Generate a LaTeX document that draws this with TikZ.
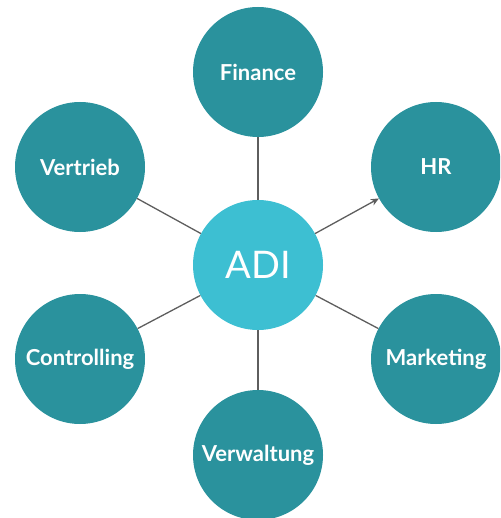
\documentclass[tikz,border=0pt]{standalone}
\usepackage{fontspec}
\setmainfont{Lato}
\usetikzlibrary{arrows.meta}
\definecolor{tealdark}{HTML}{2A929D}
\definecolor{teallight}{HTML}{3DBFD2}
\definecolor{linkgray}{HTML}{5E5E5E}
\tikzset{
  dept/.style={circle, fill=tealdark, text=white, minimum size=130pt, inner sep=0pt, font=\bfseries\fontsize{22}{26}\selectfont},
  hub/.style={circle, fill=teallight, text=white, minimum size=130pt, inner sep=0pt, font=\fontsize{38}{44}\selectfont},
  link/.style={linkgray, line width=1.3pt}
}
\begin{document}
\begin{tikzpicture}[x=1pt, y=-1pt]
			\clip (0,0) rectangle (500,518);
			\useasboundingbox (0,0) rectangle (500,518);
			\node[hub] (adi) at (258,265) {ADI};
			\node[dept] (fin) at (258,72) {Finance};
			\node[dept] (vert) at (80,167) {Vertrieb};
			\node[dept] (hr) at (436,167) {HR};
			\node[dept] (ctrl) at (80,359) {Controlling};
			\node[dept] (mark) at (436,359) {Marketing};
			\node[dept] (verw) at (258,455) {Verwaltung};
			\draw[link] (fin) -- (adi);
			\draw[link] (vert) -- (adi);
			\draw[link] (ctrl) -- (adi);
			\draw[link] (adi) -- (mark);
			\draw[link] (adi) -- (verw);
			\draw[link, -{Stealth[length=8pt, width=7pt]}] (adi) -- (hr);
		\end{tikzpicture}
\end{document}
